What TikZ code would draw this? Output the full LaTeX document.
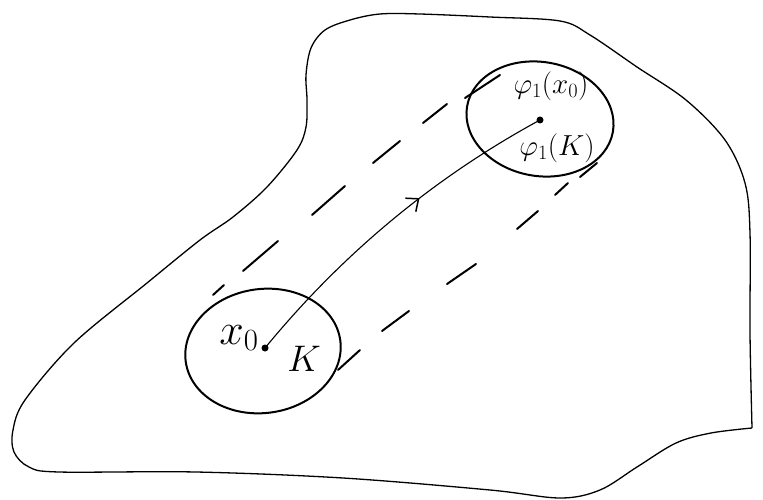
\RequirePackage{fix-cm}
\documentclass[tikz,border=0pt]{standalone}
\usetikzlibrary{arrows.meta,decorations.markings}
\begin{document}
\begin{tikzpicture}[x=1pt,y=-1pt,
  blob/.style={line width=1.3pt,line join=round},
  region/.style={line width=2pt},
  dashseg/.style={line width=2pt,line cap=round},
  flow/.style={line width=1.1pt,
    postaction={decorate},
    decoration={markings,mark=at position 0.6 with {\arrow{Straight Barb[length=10pt,width=17pt,line width=1.5pt]}}}},
  dotpt/.style={circle,fill=black,inner sep=0pt,minimum size=7pt},
  lbl/.style={inner sep=0pt}]
\useasboundingbox (0,0) rectangle (763,500);
% outer region
\draw[blob] plot[smooth,tension=0.55] coordinates {
 (752,428) (750,333) (750,233) (745,183) (725,140) (686,100) (637,67) (590,35)
 (560,21) (490,17) (420,14) (380,14) (350,20) (325,30) (311,48) (306,75)
 (307,100) (306,127) (297,150) (267,187) (233,217) (200,240) (147,283)
 (74,343) (25,400) (13,430) (14,452) (29,467) (59,472) (196,472) (343,478)
 (490,490) (560,498) (600,490) (637,467) (676,443) (711,433) (752,428)};
% region K
\draw[region, rotate around={8:(263,351)}] (263,351) ellipse [x radius=78, y radius=62];
% region phi_1(K)
\draw[region, rotate around={-10:(540,119)}] (540,119) ellipse [x radius=74, y radius=57];
% dots
\node[dotpt] (x0) at (265,348) {};
\node[dotpt] (p) at (540,120) {};
% flow line
\draw[flow] (x0.center) .. controls (343,253) and (435,177) .. (p.center);
% upper dashed line
\draw[dashseg] (213,295) -- (224,285);
\draw[dashseg] (243,271) -- (278,241);
\draw[dashseg] (312,215) -- (345,186);
\draw[dashseg] (373,163) -- (400,141);
\draw[dashseg] (423,123) -- (447,104);
\draw[dashseg] (465,98) -- (500,75);
% lower dashed line
\draw[dashseg] (338,370) -- (360,350);
\draw[dashseg] (382,331) -- (409,311);
\draw[dashseg] (447,284) -- (476,264);
\draw[dashseg] (517,229) -- (538,211);
\draw[dashseg] (555,195) -- (568,183);
\draw[dashseg] (580,177) -- (597,163);
% labels
\node[lbl] (lx0) at (239,338) {\fontsize{44}{48}\selectfont$x_0$};
\node[lbl] (lK) at (304,359) {\fontsize{37}{40}\selectfont$K$};
\node[lbl] (lpx) at (551,86) {\fontsize{29}{32}\selectfont$\varphi_1(x_0)$};
\node[lbl] (lpK) at (557,148) {\fontsize{29}{32}\selectfont$\varphi_1(K)$};
\end{tikzpicture}
\end{document}
